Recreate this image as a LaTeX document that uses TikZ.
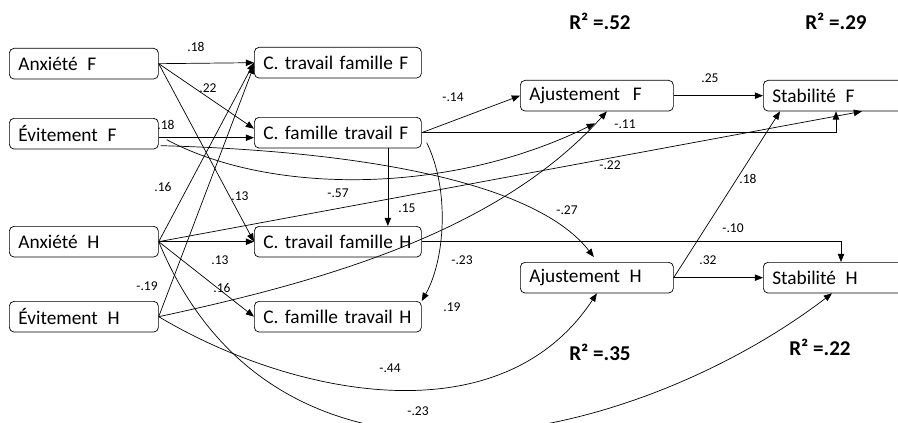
\documentclass[tikz,border=0pt]{standalone}
\usepackage{fontspec}
\setmainfont{Carlito}
\usetikzlibrary{arrows.meta,calc}

\newcommand{\boxfont}{\fontsize{16.5}{20}\selectfont}
\newcommand{\wtfont}{\fontsize{11.5}{13}\selectfont}
\newcommand{\rsqfont}{\fontsize{18}{21}\selectfont\bfseries}

\begin{document}
\begin{tikzpicture}
      [x = .03cm, y = -.03cm, line width = .6pt, >={Triangle[length=7pt,width=5.5pt]},
       box/.style = {draw, rounded corners = 4pt, anchor = north west, minimum height = .92cm,
                     inner xsep = .27cm, inner ysep = 0pt, align = left, font = \boxfont, text width = #1},
       wt/.style = {font = \wtfont, inner sep = 0pt},
       rsq/.style = {font = \rsqfont, anchor = base, inner sep = 0pt}]
      \useasboundingbox (0,0) rectangle (898,423);
      % boxes
      \foreach \n/\y/\t in {aF/48/Anxiété\ \,F, eF/118/Évitement\ \,F, aH/226/Anxiété\ \,H, eH/301/Évitement\ \,H}
        \node[box = 3.93cm] (\n) at (9,\y) {\mbox{\t}};
      \foreach \n/\y/\t in {ctfF/47/C. travail famille F, cftF/117/C. famille travail F, ctfH/226/C. travail famille H, cftH/301/C. famille travail H}
        \node[box = 4.47cm] (\n) at (254,\y) {\mbox{\t}};
      \foreach \n/\y/\t in {ajF/80/Ajustement\ \ F, ajH/262/Ajustement\ \,H}
        \node[box = 4.05cm] (\n) at (520,\y) {\mbox{\t}};
      \foreach \n/\y/\t in {stF/80/Stabilité\ \,F, stH/262/Stabilité\ \,H}
        \node[box = 5.46cm] (\n) at (763,\y) {\mbox{\t}};
      % paths
      \draw[->] (aF.east) -- (ctfF.west);
      \draw[->] (aF.east) -- ($(cftF.west)+(0,-4)$);
      \draw[->] (aF.east) -- (ctfH.west);
      \draw[->] ($(eF.east)+(0,4)$) -- ($(cftF.west)+(0,5)$);
      \draw[->] ($(eF.east)+(8,6)$) .. controls (270,195) and (450,195) .. ($(ajF.south)+(-2,12)$);
      \draw[->] ($(eF.east)+(2,12)$) .. controls (330,150) and (530,175) .. ($(ajH.north)+(-3,-5)$);
      \draw[->] (aH.east) -- (ctfF.west);
      \draw[->] (aH.east) -- (ctfH.west);
      \draw[->] (aH.east) -- (cftH.west);
      \draw[->] (aH.east) -- ($(stF.south west)+(99,0)$);
      \draw[->] (aH.east) .. controls (280,535) and (640,440) .. ($(stH.south west)+(69,0)$);
      \draw[->] (eH.east) -- ($(ctfF.west)+(0,3)$);
      \draw[->] (eH.east) .. controls (330,280) and (500,230) .. ($(ajF.south)+(10,0)$);
      \draw[->] (eH.east) .. controls (290,395) and (500,440) .. (ajH.south);
      \draw[->] (cftF.east) -- (ajF.west);
      \draw[->] (cftF.east) -| ($(stF.south west)+(73,0)$);
      \draw[->] ($(cftF.south)+(50,0)$) -- ($(ctfH.north)+(50,0)$);
      \draw[->] ($(cftF.east)+(5,10)$) .. controls (450,190) and (445,260) .. (cftH.north east);
      \draw[->] (ctfH.east) -| ($(stH.north west)+(78,0)$);
      \draw[->] (ajF.east) -- (ajF.east -| stF.west);
      \draw[->] (ajH.east) -- (ajH.east -| stH.west);
      \draw[->] (ajH.east) -- ($(stF.south west)+(17,0)$);
      % weights
      \foreach \x/\y/\t [count = \i] in {196/47/.18, 208/88/.22, 166/125/.18, 240/196/.13, 163/187/.16,
          220/260/.13, 222/288/.16, 147/286/-.19, 453/97/-.14, 338/193/-.57, 407/208/.15, 567/210/-.27,
          462/260/-.23, 625/124/-.11, 610/165/-.22, 710/78/.25, 748/179/.18, 733/228/-.10, 708/260/.32,
          452/307/.19, 390/368/-.44, 418/411/-.23}
        \node[wt] (w\i) at (\x,\y) {\t};
      \node[rsq] (r2ajF) at (600,30) {R² =.52};
      \node[rsq] (r2stF) at (836,30) {R² =.29};
      \node[rsq] (r2ajH) at (600,360) {R² =.35};
      \node[rsq] (r2stH) at (820,355) {R² =.22};
      \end{tikzpicture}
\end{document}
